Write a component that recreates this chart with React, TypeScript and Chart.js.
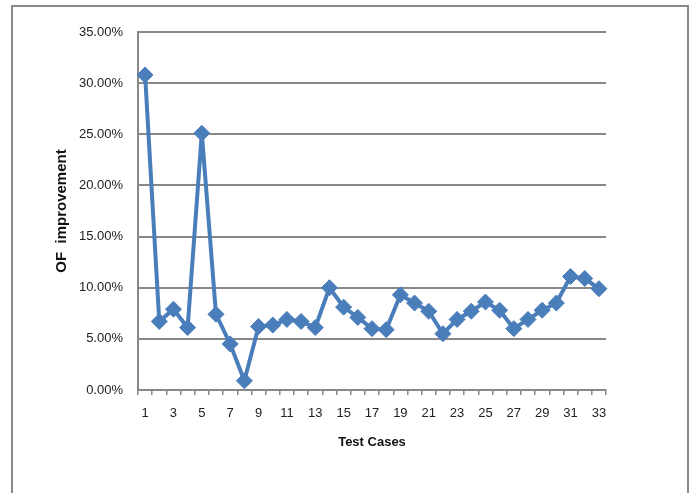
import React, { useEffect, useRef } from "react";
import { Chart, registerables } from "chart.js";

Chart.register(...registerables);

const testCases: string[] = Array.from({ length: 33 }, (_, i) => String(i + 1));
const ofImprovement: number[] = [
  30.8, 6.7, 7.9, 6.1, 25.1, 7.4, 4.5, 0.9, 6.2, 6.35, 6.9, 6.7, 6.1, 10.0, 8.1, 7.1,
  6.0, 5.9, 9.3, 8.5, 7.7, 5.5, 6.9, 7.7, 8.6, 7.8, 6.0, 6.9, 7.8, 8.5, 11.1, 10.9, 9.9,
];
const yMin = 0;
const yMax = 35;
const yStep = 5;
const xTitle = "Test Cases";
const yTitle = "OF  improvement";

const framePlugin = {
  id: "frame",
  beforeDraw(chart: any) {
    const ctx = chart.ctx;
    ctx.save();
    ctx.fillStyle = "#ffffff";
    ctx.fillRect(0, 0, chart.width, chart.height);
    ctx.strokeStyle = "#8a8a8a";
    ctx.lineWidth = 2;
    ctx.strokeRect(12, 6, 676, 520);
    ctx.restore();
  },
};

export default function App() {
  const ref = useRef<HTMLCanvasElement | null>(null);
  useEffect(() => {
    if (!ref.current) return;
    const font = "'Liberation Sans', Arial, sans-serif";
    const grey = "#888888";
    const chart = new Chart(ref.current, {
      type: "line",
      data: {
        labels: testCases,
        datasets: [
          {
            data: ofImprovement,
            borderColor: "#4A7EBB",
            backgroundColor: "#4A7EBB",
            borderWidth: 4,
            pointStyle: "rectRot",
            pointRadius: 8,
            pointBorderWidth: 1,
            tension: 0,
          },
        ],
      },
      plugins: [framePlugin],
      options: {
        animation: false,
        responsive: false,
        layout: { padding: { left: 53, right: 86, top: 32, bottom: 43 } },
        plugins: { legend: { display: false }, tooltip: { enabled: false } },
        scales: {
          x: {
            type: "category",
            offset: true,
            afterFit: (s: any) => {
              s.height = 60;
            },
            grid: {
              offset: true,
              drawOnChartArea: false,
              drawTicks: true,
              tickLength: 5,
              color: grey,
              lineWidth: 1.5,
            },
            border: { display: true, color: grey, width: 2 },
            ticks: {
              autoSkip: false,
              maxRotation: 0,
              padding: 11,
              color: "#222",
              font: { family: font, size: 13 },
              callback: (_v: any, i: number) => (i % 2 === 0 ? testCases[i] : ""),
            },
            title: {
              display: true,
              text: xTitle,
              color: "#111",
              font: { family: font, size: 13, weight: "bold" },
              padding: { top: 0, bottom: 0 },
            },
          },
          y: {
            min: yMin,
            max: yMax,
            afterFit: (s: any) => {
              s.width = 85;
            },
            grid: { color: grey, lineWidth: 2, drawTicks: false },
            border: { display: true, color: grey, width: 2 },
            ticks: {
              stepSize: yStep,
              padding: 15,
              color: "#222",
              font: { family: font, size: 13 },
              callback: (v: any) => Number(v).toFixed(2) + "%",
            },
            title: {
              display: true,
              text: yTitle,
              color: "#111",
              font: { family: font, size: 15, weight: "bold" },
              padding: { top: 0, bottom: 0 },
            },
          },
        },
      },
    });
    return () => chart.destroy();
  }, []);
  return (
    <canvas
      ref={ref}
      width={692}
      height={493}
      style={{ position: "absolute", left: 0, top: 0, display: "block" }}
    />
  );
}
